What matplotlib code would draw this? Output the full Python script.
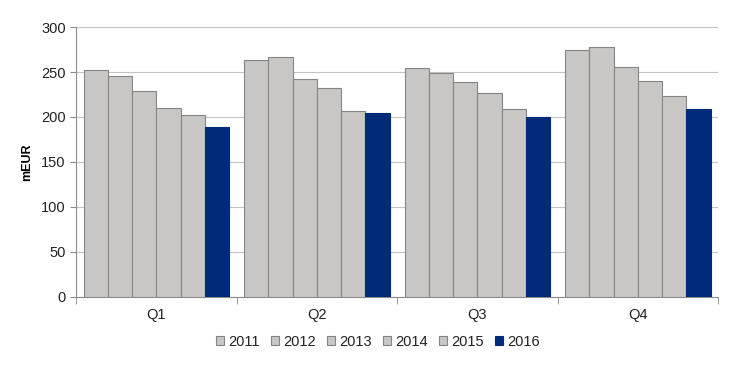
import matplotlib
matplotlib.use("Agg")
import matplotlib.pyplot as plt
import numpy as np

categories = ["Q1", "Q2", "Q3", "Q4"]
years = ["2011", "2012", "2013", "2014", "2015", "2016"]
values = {
    "2011": [252, 263, 254, 275],
    "2012": [246, 267, 249, 278],
    "2013": [229, 242, 239, 256],
    "2014": [210, 232, 227, 240],
    "2015": [202, 207, 209, 223],
    "2016": [189, 204, 200, 209],
}
colors = ["#C8C7C6"] * 5 + ["#002B7A"]
edges = ["#858585"] * 5 + ["#002B7A"]

plt.rcParams["font.family"] = ["Liberation Sans", "DejaVu Sans"]
fig = plt.figure(figsize=(7.32, 3.66), dpi=100)
ax = fig.add_axes([0.104, 0.189, 0.877, 0.737])

x = np.arange(len(categories))
bw = 0.151
for i, y in enumerate(years):
    ax.bar(x - 2.5 * bw + i * bw, values[y], width=bw, color=colors[i],
           edgecolor=edges[i], linewidth=0.8, label=y, zorder=3)

ax.set_xlim(-0.5, 3.5)
ax.set_ylim(0, 300)
ax.set_yticks(range(0, 301, 50))
ax.yaxis.grid(True, color="#C4C4C4", linewidth=0.8, zorder=0)
ax.set_axisbelow(True)
for s in ["top", "right"]:
    ax.spines[s].set_visible(False)
for s in ["left", "bottom"]:
    ax.spines[s].set_color("#8C8C8C")
    ax.spines[s].set_linewidth(0.8)
ax.set_xticks(x)
ax.set_xticklabels(categories)
ax.set_xticks(np.arange(-0.5, 3.6, 1.0), minor=True)
ax.tick_params(axis="x", which="major", length=0, labelsize=10.5, pad=8, colors="#222222")
ax.tick_params(axis="x", which="minor", length=5, color="#8C8C8C")
ax.tick_params(axis="y", length=4, color="#8C8C8C", labelsize=10.5, colors="#222222")
ax.set_ylabel("mEUR", fontweight="bold", fontsize=9, labelpad=6)

leg = fig.legend(loc="center", bbox_to_anchor=(0.516, 0.066), ncol=6, frameon=False,
                 fontsize=10.5, handlelength=0.55, handleheight=0.55, handletextpad=0.3,
                 columnspacing=0.75)
for t in leg.get_texts():
    t.set_color("#222222")

fig.savefig("out.png", dpi=100)
